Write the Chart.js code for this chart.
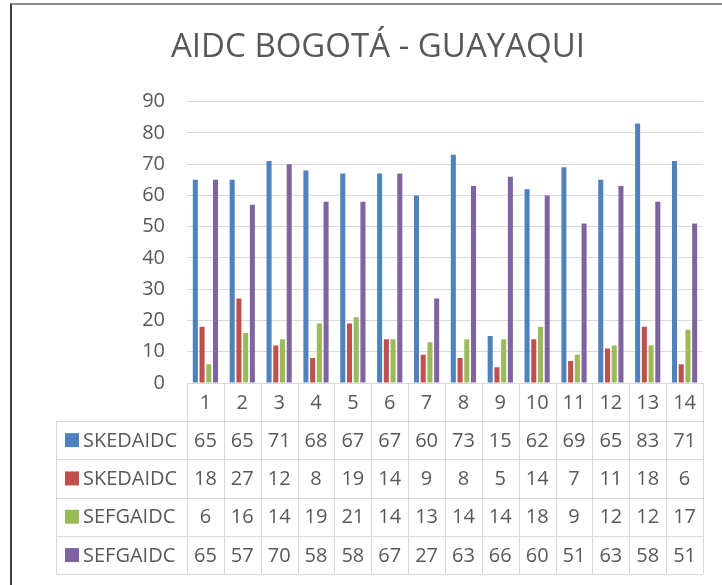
<!DOCTYPE html>
<html>
<head>
<meta charset="utf-8">
<script src="https://cdn.jsdelivr.net/npm/chart.js@4.4.1/dist/chart.umd.min.js"></script>
<style>
  html, body { margin: 0; padding: 0; background: #fff; }
  #wrap { position: relative; width: 722px; height: 585px; }
  #frame { position: absolute; left: 10px; top: 3px; right: 0; bottom: 0;
           border-left: 2px solid #3f3f3f; border-top: 2px solid #8c8c8c; pointer-events: none; }
</style>
</head>
<body>
<div id="wrap">
  <canvas id="chart-area" width="722" height="585"></canvas>
  <div id="frame"></div>
</div>
<script>
var categories = ['1', '2', '3', '4', '5', '6', '7', '8', '9', '10', '11', '12', '13', '14'];
var seriesNames = ['SKEDAIDC', 'SKEDAIDC', 'SEFGAIDC', 'SEFGAIDC'];
var seriesColors = ['#4F81BD', '#C0504D', '#9BBB59', '#8064A2'];
var skedaidc1 = [65, 65, 71, 68, 67, 67, 60, 73, 15, 62, 69, 65, 83, 71];
var skedaidc2 = [18, 27, 12, 8, 19, 14, 9, 8, 5, 14, 7, 11, 18, 6];
var sefgaidc1 = [6, 16, 14, 19, 21, 14, 13, 14, 14, 18, 9, 12, 12, 17];
var sefgaidc2 = [65, 57, 70, 58, 58, 67, 27, 63, 66, 60, 51, 63, 58, 51];
var yTicks = [0, 10, 20, 30, 40, 50, 60, 70, 80, 90];

var allSeries = [skedaidc1, skedaidc2, sefgaidc1, sefgaidc2];
var txtColor = '#595959';
var lineColor = '#d9d9d9';
var fontFam = '"Open Sans", sans-serif';

// data table under the plot, columns follow the x scale
var dataTable = {
  id: 'dataTable',
  afterDraw: function(chart) {
    var ctx = chart.ctx;
    var area = chart.chartArea;
    var xs = chart.scales.x;
    var n = categories.length;
    var colW = (area.right - area.left) / n;
    var headTop = area.bottom;
    var headBottom = headTop + 38;
    var rowH = 38.3;
    var tableLeft = 56;
    var tableBottom = headBottom + rowH * allSeries.length;

    ctx.save();
    ctx.strokeStyle = lineColor;
    ctx.lineWidth = 1;
    ctx.beginPath();
    for (var i = 0; i <= n; i++) {
      var x = Math.round(area.left + i * colW) + 0.5;
      ctx.moveTo(x, headTop);
      ctx.lineTo(x, tableBottom);
    }
    ctx.moveTo(tableLeft + 0.5, headBottom);
    ctx.lineTo(tableLeft + 0.5, tableBottom);
    for (var r = 0; r <= allSeries.length; r++) {
      var y = Math.round(headBottom + r * rowH) + 0.5;
      ctx.moveTo(tableLeft, y);
      ctx.lineTo(area.right, y);
    }
    ctx.stroke();

    ctx.fillStyle = txtColor;
    ctx.font = '20px ' + fontFam;
    ctx.textAlign = 'center';
    ctx.textBaseline = 'middle';
    categories.forEach(function(c, i) {
      ctx.fillText(c, xs.getPixelForValue(i), (headTop + headBottom) / 2 + 1);
    });

    allSeries.forEach(function(vals, r) {
      var cy = headBottom + r * rowH + rowH / 2 + 1;
      vals.forEach(function(v, i) {
        ctx.fillStyle = txtColor;
        ctx.textAlign = 'center';
        ctx.fillText(String(v), xs.getPixelForValue(i), cy);
      });
      ctx.fillStyle = seriesColors[r];
      ctx.fillRect(65, cy - 8, 14, 14);
      ctx.save();
      ctx.beginPath();
      ctx.rect(tableLeft, cy - 20, 126, 40);
      ctx.clip();
      ctx.fillStyle = txtColor;
      ctx.textAlign = 'left';
      ctx.fillText(seriesNames[r], 83, cy);
      ctx.restore();
    });
    ctx.restore();
  }
};

var config = {
  type: 'bar',
  data: {
    labels: categories,
    datasets: allSeries.map(function(vals, i) {
      return {
        label: seriesNames[i],
        data: vals,
        backgroundColor: seriesColors[i],
        barPercentage: 0.75,
        categoryPercentage: 0.73
      };
    })
  },
  options: {
    responsive: false,
    animation: false,
    layout: { padding: { left: 53, right: 19, top: 0, bottom: 202 } },
    plugins: {
      legend: { display: false },
      tooltip: { enabled: false },
      title: {
        display: true,
        text: 'AIDC BOGOTÁ - GUAYAQUI',
        color: txtColor,
        font: { family: fontFam, size: 33, weight: 'normal' },
        padding: { top: 28, bottom: 34 }
      }
    },
    scales: {
      x: { display: false, grid: { display: false } },
      y: {
        min: 0,
        max: 90,
        afterBuildTicks: function(scale) {
          scale.ticks = yTicks.map(function(v) { return { value: v }; });
        },
        afterFit: function(scale) { scale.width = 134; },
        ticks: { color: txtColor, padding: 22, font: { family: fontFam, size: 20 } },
        grid: { color: lineColor, drawTicks: false },
        border: { display: false }
      }
    }
  },
  plugins: [dataTable]
};

var ctx = document.getElementById('chart-area').getContext('2d');
window.myBar = new Chart(ctx, config);
</script>
</body>
</html>
